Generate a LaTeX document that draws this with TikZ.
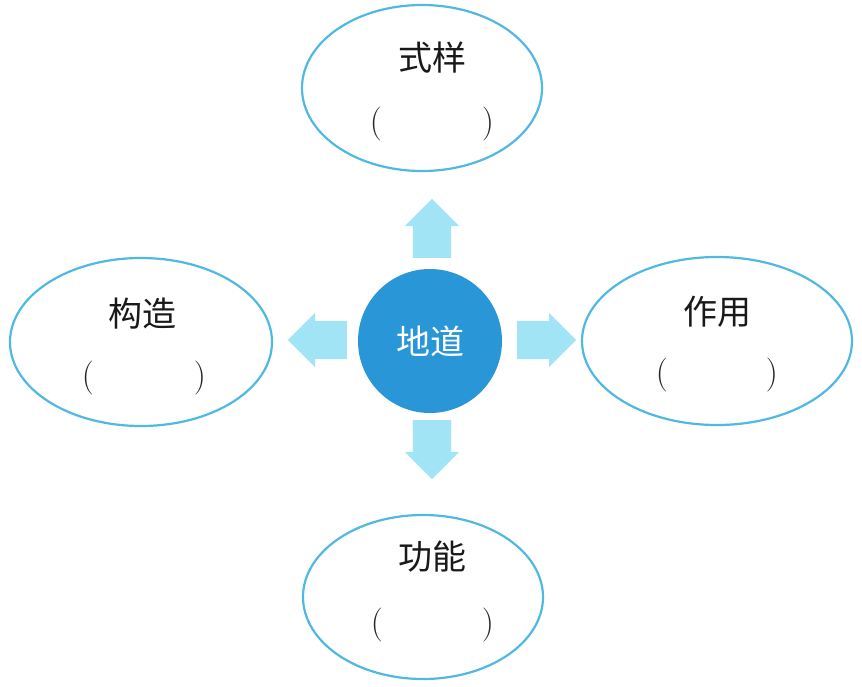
\documentclass[tikz,border=0pt]{standalone}
\usepackage{fontspec}
\newfontfamily\cjk{Noto Sans CJK SC}
\usetikzlibrary{shapes.geometric,shapes.arrows}
\definecolor{ringblue}{RGB}{80,185,225}
\definecolor{hubblue}{RGB}{40,150,215}
\definecolor{arrowcyan}{RGB}{160,228,245}
\tikzset{
  oval/.style={draw=ringblue, line width=2.2pt, ellipse, inner sep=0pt},
  label/.style={font=\cjk\fontsize{34}{34}\selectfont, text=black!90, inner sep=0pt},
  paren/.style={font=\fontsize{34}{34}\selectfont, text=black!85, inner sep=0pt},
  blockarrow/.style={single arrow, fill=arrowcyan, draw=none, anchor=tail,
    single arrow head extend=8pt, minimum height=59pt, inner xsep=0pt, inner ysep=19pt},
  hub/.style={circle, fill=hubblue, minimum size=144pt, inner sep=0pt,
    font=\cjk\fontsize{34}{34}\selectfont, text=white}
}
\begin{document}
\begin{tikzpicture}[x=1pt,y=-1pt]
\useasboundingbox (0,0) rectangle (862,686);
\fill[white] (0,0) rectangle (862,686);
% central hub
\node[hub] (hub) at (430,341) {地道};
% block arrows
\node[blockarrow, rotate=90] (aup) at (432,258) {};
\node[blockarrow, rotate=-90] (adown) at (432,420) {};
\node[blockarrow] (aright) at (517,340) {};
\node[blockarrow, rotate=180] (aleft) at (347,340) {};
% ovals
\node[oval, minimum width=240pt, minimum height=166pt] (top) at (422,88) {};
\node[oval, minimum width=262pt, minimum height=168pt] (left) at (141,342) {};
\node[oval, minimum width=270pt, minimum height=168pt] (right) at (717,341) {};
\node[oval, minimum width=240pt, minimum height=164pt] (bottom) at (423,597) {};
% labels
\node[label] (ttop) at (432,58) {式样};
\node[paren] (tpl) at (376,124) {(};
\node[paren] (tpr) at (488,124) {)};
\node[label] (tleft) at (142,314) {构造};
\node[paren] (lpl) at (88,378) {(};
\node[paren] (lpr) at (200,378) {)};
\node[label] (tright) at (717,312) {作用};
\node[paren] (rpl) at (662,375) {(};
\node[paren] (rpr) at (772,375) {)};
\node[label] (tbottom) at (432,557) {功能};
\node[paren] (bpl) at (377,625) {(};
\node[paren] (bpr) at (488,625) {)};
\end{tikzpicture}
\end{document}
